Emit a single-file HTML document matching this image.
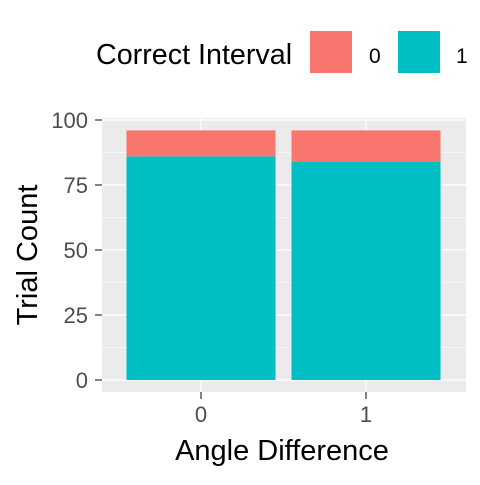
<!DOCTYPE html>
<html><head><meta charset="utf-8"><style>
body{margin:0;background:#fff}
svg text{font-family:"Liberation Sans",Arial,sans-serif}
</style></head><body>
<svg width="480" height="480" viewBox="0 0 480 480">
<g>
<text x="96" y="64" font-size="28.7" fill="#000">Correct Interval</text>
<rect x="310" y="31" width="42" height="42" fill="#F8766D"/>
<text x="369" y="63" font-size="21" fill="#000">0</text>
<rect x="398" y="31" width="42" height="42" fill="#00BFC4"/>
<text x="456" y="63" font-size="21" fill="#000">1</text>
</g>
<rect x="102" y="118" width="364" height="274" fill="#EBEBEB"/>
<g id="grid"></g>
<g id="bars"></g>
<g id="axes"></g>
<text x="282" y="460" font-size="29" text-anchor="middle" fill="#000">Angle Difference</text>
<text transform="translate(37,255) rotate(-90)" font-size="29" text-anchor="middle" fill="#000">Trial Count</text>
</svg>
<script>
const categories=["0","1"];
const count1=[86,84];
const count0=[10,12];
const yTicks=[0,25,50,75,100];
const NS="http://www.w3.org/2000/svg";
const y=v=>380-v*2.6;
const xc=i=>201+i*165;
const bw=149;
function mk(tag,attrs,parent){const e=document.createElementNS(NS,tag);for(const k in attrs)e.setAttribute(k,attrs[k]);parent.appendChild(e);return e;}
const grid=document.getElementById('grid'),bars=document.getElementById('bars'),axes=document.getElementById('axes');
for(let i=0;i<yTicks.length-1;i++){const m=(yTicks[i]+yTicks[i+1])/2;
 const l=mk('line',{x1:102,x2:466,y1:y(m),y2:y(m),stroke:'#fff','stroke-width':0.6},grid);
 
 }
yTicks.forEach(t=>{
 const l=mk('line',{x1:102,x2:466,y1:y(t),y2:y(t),stroke:'#fff','stroke-width':1.2},grid);
 
 
 const tk=mk('line',{x1:95,x2:102,y1:y(t),y2:y(t),stroke:'#333','stroke-width':1.2},axes);
 
 
 const tx=mk('text',{x:88,y:y(t)+8,'font-size':22,'text-anchor':'end',fill:'#4D4D4D'},axes);
 tx.textContent=t;
 
 
});
categories.forEach((c,i)=>{
 const l=mk('line',{x1:xc(i),x2:xc(i),y1:118,y2:392,stroke:'#fff','stroke-width':1.2},grid);
 
 
 const b1=mk('rect',{x:xc(i)-bw/2,width:bw,y:y(count1[i]),height:y(0)-y(count1[i]),fill:'#00BFC4'},bars);
 
 
 const tot=count1[i]+count0[i];
 const b0=mk('rect',{x:xc(i)-bw/2,width:bw,y:y(tot),height:y(count1[i])-y(tot),fill:'#F8766D'},bars);
 
 
 const tk=mk('line',{x1:xc(i),x2:xc(i),y1:392,y2:399,stroke:'#333','stroke-width':1.2},axes);
 
 
 const tx=mk('text',{x:xc(i),y:422,'font-size':22,'text-anchor':'middle',fill:'#4D4D4D'},axes);
 tx.textContent=c;
 
 
});
</script>
</body></html>
